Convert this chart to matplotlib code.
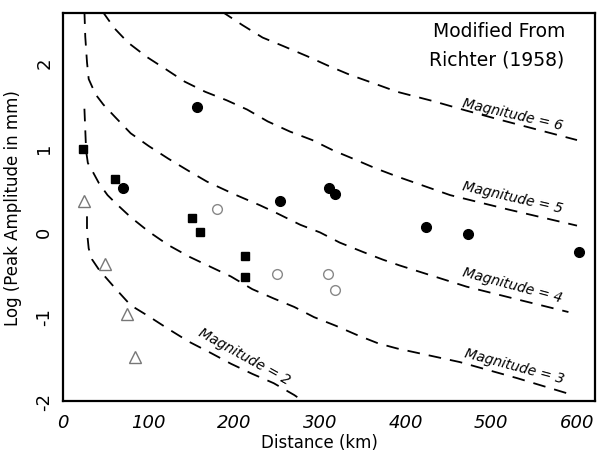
import matplotlib
matplotlib.use("Agg")
import matplotlib.pyplot as plt

plt.rcParams["axes.unicode_minus"] = False

# dashed magnitude curves (distance km, log amplitude)
m6_dist = [185, 209, 233, 257, 285, 309, 335, 360, 390, 432, 470, 510, 555, 600]
m6_amp = [2.60, 2.44, 2.29, 2.19, 2.07, 1.96, 1.85, 1.76, 1.65, 1.54, 1.43, 1.32, 1.20, 1.08]

m5_dist = [46, 60, 76, 98, 121, 142, 166, 191, 215, 239, 265, 291, 315, 341, 364, 390, 452, 520, 600]
m5_amp = [2.60, 2.40, 2.23, 2.06, 1.91, 1.77, 1.65, 1.55, 1.44, 1.30, 1.18, 1.08, 0.96, 0.85, 0.75, 0.65, 0.43, 0.26, 0.07]

m4_dist = [25, 26, 28, 30, 38, 47, 61, 79, 100, 123, 146, 168, 200, 230, 247, 277, 300, 323, 350, 373, 393, 471, 530, 590]
m4_amp = [2.60, 2.30, 2.00, 1.80, 1.62, 1.50, 1.35, 1.16, 1.01, 0.86, 0.72, 0.59, 0.44, 0.31, 0.23, 0.08, -0.01, -0.13, -0.24, -0.33, -0.40, -0.65, -0.80, -0.95]

m3_dist = [25, 27, 29, 34, 42, 52, 62, 79, 100, 123, 148, 173, 196, 221, 246, 270, 293, 318, 343, 368, 390, 463, 530, 592]
m3_amp = [1.45, 0.95, 0.81, 0.72, 0.57, 0.43, 0.33, 0.17, 0.00, -0.16, -0.30, -0.42, -0.53, -0.68, -0.79, -0.89, -1.01, -1.11, -1.22, -1.32, -1.38, -1.54, -1.73, -1.92]

m2_dist = [28, 28, 30, 34, 42, 61, 79, 100, 123, 147, 172, 196, 221, 246, 270, 280]
m2_amp = [0.18, 0.00, -0.20, -0.33, -0.45, -0.67, -0.87, -1.00, -1.15, -1.30, -1.43, -1.56, -1.68, -1.79, -1.93, -2.00]

curves = [(m6_dist, m6_amp), (m5_dist, m5_amp), (m4_dist, m4_amp),
          (m3_dist, m3_amp), (m2_dist, m2_amp)]

# observations
sq_dist = [23, 61, 150, 160, 212, 212]
sq_amp = [0.97, 0.62, 0.16, 0.00, -0.29, -0.54]

dot_dist = [70, 156, 253, 311, 317, 424, 473, 602]
dot_amp = [0.51, 1.47, 0.36, 0.52, 0.44, 0.05, -0.03, -0.24]

open_dist = [180, 250, 309, 317]
open_amp = [0.27, -0.50, -0.50, -0.69]

tri_dist = [25, 49, 75, 84]
tri_amp = [0.36, -0.38, -0.97, -1.48]

# curve labels: text, x, y, angle
labels = [("Magnitude = 6", 525, 1.39, -13),
          ("Magnitude = 5", 525, 0.41, -13),
          ("Magnitude = 4", 525, -0.62, -15),
          ("Magnitude = 3", 527, -1.58, -15),
          ("Magnitude = 2", 212, -1.47, -29)]

fig = plt.figure(figsize=(5.98, 4.60), dpi=100)
ax = fig.add_axes([63 / 598, 58 / 460, 532 / 598, 388 / 460])

for d, a in curves:
    ax.plot(d, a, color="black", lw=1.3, dashes=(7, 5))

ax.plot(sq_dist, sq_amp, "s", color="black", ms=6)
ax.plot(dot_dist, dot_amp, "o", color="black", ms=7)
ax.plot(open_dist, open_amp, "o", mfc="none", mec="#888888", ms=7, mew=1)
ax.plot(tri_dist, tri_amp, "^", mfc="none", mec="#777777", ms=8, mew=1)

for txt, x, y, rot in labels:
    ax.text(x, y, txt, rotation=rot, rotation_mode="anchor", ha="center",
            va="center", fontsize=10, style="italic")

ax.text(0.82, 0.954, "Modified From", transform=ax.transAxes, ha="center",
        va="center", fontsize=13.5)
ax.text(0.815, 0.881, "Richter (1958)", transform=ax.transAxes, ha="center",
        va="center", fontsize=13.5)

ax.set_xlim(0, 621)
ax.set_ylim(-2, 2.58)
ax.set_xticks([0, 100, 200, 300, 400, 500, 600])
ax.set_yticks([-2, -1, 0, 1, 2])
ax.tick_params(length=0, labelsize=13)
ax.tick_params(axis="x", pad=9)
ax.tick_params(axis="y", pad=7)
for t in ax.get_xticklabels():
    t.set_style("italic")
for t in ax.get_yticklabels():
    t.set_rotation(90)
    t.set_va("center")

for s in ax.spines.values():
    s.set_linewidth(1.6)

ax.set_xlabel("Distance (km)", fontsize=12, va="center")
ax.set_ylabel("Log (Peak Amplitude in mm)", fontsize=12)
ax.xaxis.set_label_coords((319 - 63) / 532, -(443 - 402) / 388)
ax.yaxis.set_label_coords(-(63 - 22) / 532, 0.5)

fig.savefig("out.png", dpi=100)
